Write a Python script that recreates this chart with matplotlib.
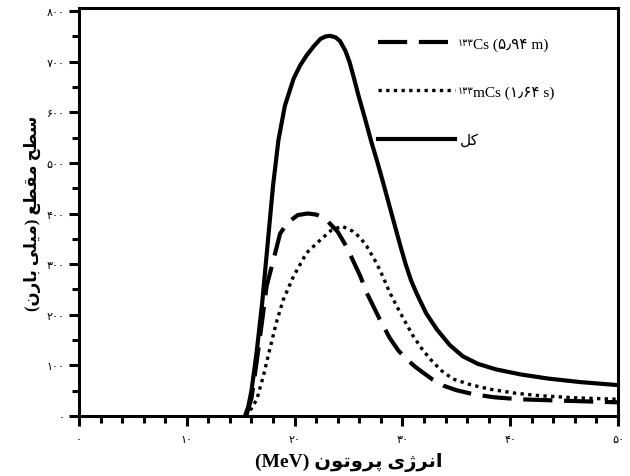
import matplotlib.pyplot as plt
from matplotlib.ticker import MultipleLocator, FuncFormatter

# داده‌ها (خوانده شده از نمودار)
e_total = [15.4, 15.7, 16.0, 16.5, 17.0, 17.5, 18.0, 18.5, 19.1, 19.9, 20.5,
           21.1, 21.8, 22.4, 22.9, 23.3, 23.8, 24.2, 24.7, 25.1, 25.5, 25.9, 26.5,
           27.1, 27.7, 28.2, 28.8, 29.4, 29.8, 30.3, 30.8, 31.3, 32.2, 33.2, 34.4,
           35.6, 37.0, 38.7, 41.0, 43.5, 46.5, 50.0]
s_total = [0, 18, 50, 130, 225, 340, 455, 545, 613, 666, 692,
           712, 731, 745, 750, 751, 748, 741, 722, 699, 668, 635, 590,
           543, 500, 462, 415, 368, 337, 300, 268, 243, 203, 171, 140,
           118, 103, 92, 82, 74, 67, 61]

e_cs = [15.5, 16.0, 16.5, 17.0, 17.4, 18.2, 18.65, 19.3, 20.3, 21.2, 22.0, 22.6,
        23.1, 24.0, 24.8, 25.4, 26.1, 26.7, 27.9, 28.8, 29.6, 30.4, 31.2, 31.9,
        32.8, 33.8, 35.0, 36.6, 38.5, 40.9, 45.2, 50.0]
s_cs = [0, 35, 110, 190, 256, 322, 360, 381, 397, 400, 398, 392,
        384, 364, 335, 308, 276, 243, 191, 155, 130, 112, 97, 86,
        72, 60, 51, 43, 37, 33, 30, 27]

e_mcs = [15.4, 16.0, 16.5, 17.1, 17.7, 18.3, 18.95, 19.9, 21.1, 22.4, 23.4, 24.4,
         25.4, 26.1, 26.7, 27.6, 28.2, 28.8, 29.4, 30.1, 31.0, 31.8, 32.6, 33.6,
         34.7, 36.3, 38.1, 40.5, 42.8, 46.0, 50.0]
s_mcs = [0, 15, 33, 79, 132, 184, 230, 276, 322, 348, 367, 375,
         365, 352, 335, 302, 275, 245, 220, 192, 158, 133, 112, 90,
         73, 62, 53, 45, 40, 36, 33]

# متن‌ها به ترتیب نمایشی (چپ به راست) با حروف پیوسته
label_total = "\uFEDE\uFB90"                      # کل
label_cs = "Cs (\u06F5\u066B\u06F9\u06F4 m)"
label_mcs = "mCs (\u06F1\u066B\u06F6\u06F4 s)"
mass = "\u06F1\u06F3\u06F3"                       # ۱۳۳
xlabel = ("(MeV) " + "\uFEE5\uFEEE\uFE97\uFEED\uFEAE\uFB58" + " "
          + "\uFBFC\uFB8A\uFEAE\uFEE7\uFE8D")
ylabel = ("(" + "\uFEE5\uFEAD\uFE8E\uFE91" + " " + "\uFBFD\uFEE0\uFBFF\uFEE3" + ") "
          + "\uFECA\uFEC4\uFED8\uFEE3" + " " + "\uFEA2\uFEC4\uFEB3")

fa_digits = str.maketrans("0123456789", "\u06F0\u06F1\u06F2\u06F3\u06F4\u06F5\u06F6\u06F7\u06F8\u06F9")
fam = ['Liberation Serif', 'DejaVu Sans']

fig = plt.figure(figsize=(6.3, 4.77), dpi=100)
ax = fig.add_axes([79 / 630, 1 - 417 / 477, 539 / 630, 408 / 477])

l1, = ax.plot(e_cs, s_cs, color='black', lw=3, dashes=(7, 2.8), solid_capstyle='butt')
l2, = ax.plot(e_mcs, s_mcs, color='black', lw=2.4, dashes=(1, 1.3))
l3, = ax.plot(e_total, s_total, color='black', lw=3)

ax.set_xlim(0, 50)
ax.set_ylim(0, 806)
ax.xaxis.set_major_locator(MultipleLocator(10))
ax.xaxis.set_minor_locator(MultipleLocator(2))
ax.yaxis.set_major_locator(MultipleLocator(100))
ax.yaxis.set_minor_locator(MultipleLocator(50))
fmt = FuncFormatter(lambda v, p: str(int(round(v))).translate(fa_digits))
ax.xaxis.set_major_formatter(fmt)
ax.yaxis.set_major_formatter(fmt)
ax.tick_params(which='major', length=7, width=2.2, labelsize=8, direction='out')
ax.tick_params(which='minor', length=5, width=2.2, direction='out')
ax.tick_params(axis='x', pad=6)
for t in ax.get_xticklabels() + ax.get_yticklabels():
    t.set_family('DejaVu Sans')
for sp in ax.spines.values():
    sp.set_linewidth(2.2)

ax.set_xlabel(xlabel, family=fam, fontweight='bold', fontsize=14, labelpad=6)
ax.set_ylabel(ylabel, family=fam, fontweight='bold', fontsize=12, labelpad=4)

leg = ax.legend([l1, l2, l3], [label_cs, label_mcs, label_total],
                loc='upper left', bbox_to_anchor=(0.541, 0.948), frameon=False,
                prop={'family': fam, 'size': 11}, handlelength=5.05,
                handletextpad=1.15, labelspacing=2.25, borderpad=0)
for t in leg.get_texts()[:2]:
    ax.annotate(mass, xy=(0.0, 1.0), xycoords=t, ha='right', va='top',
                fontsize=7, family='DejaVu Sans', zorder=10)
# "کل" بدون عدد جرمی، نزدیک‌تر به خط
leg.get_texts()[2].set_x(-13)

fig.savefig('out.png', dpi=100)
